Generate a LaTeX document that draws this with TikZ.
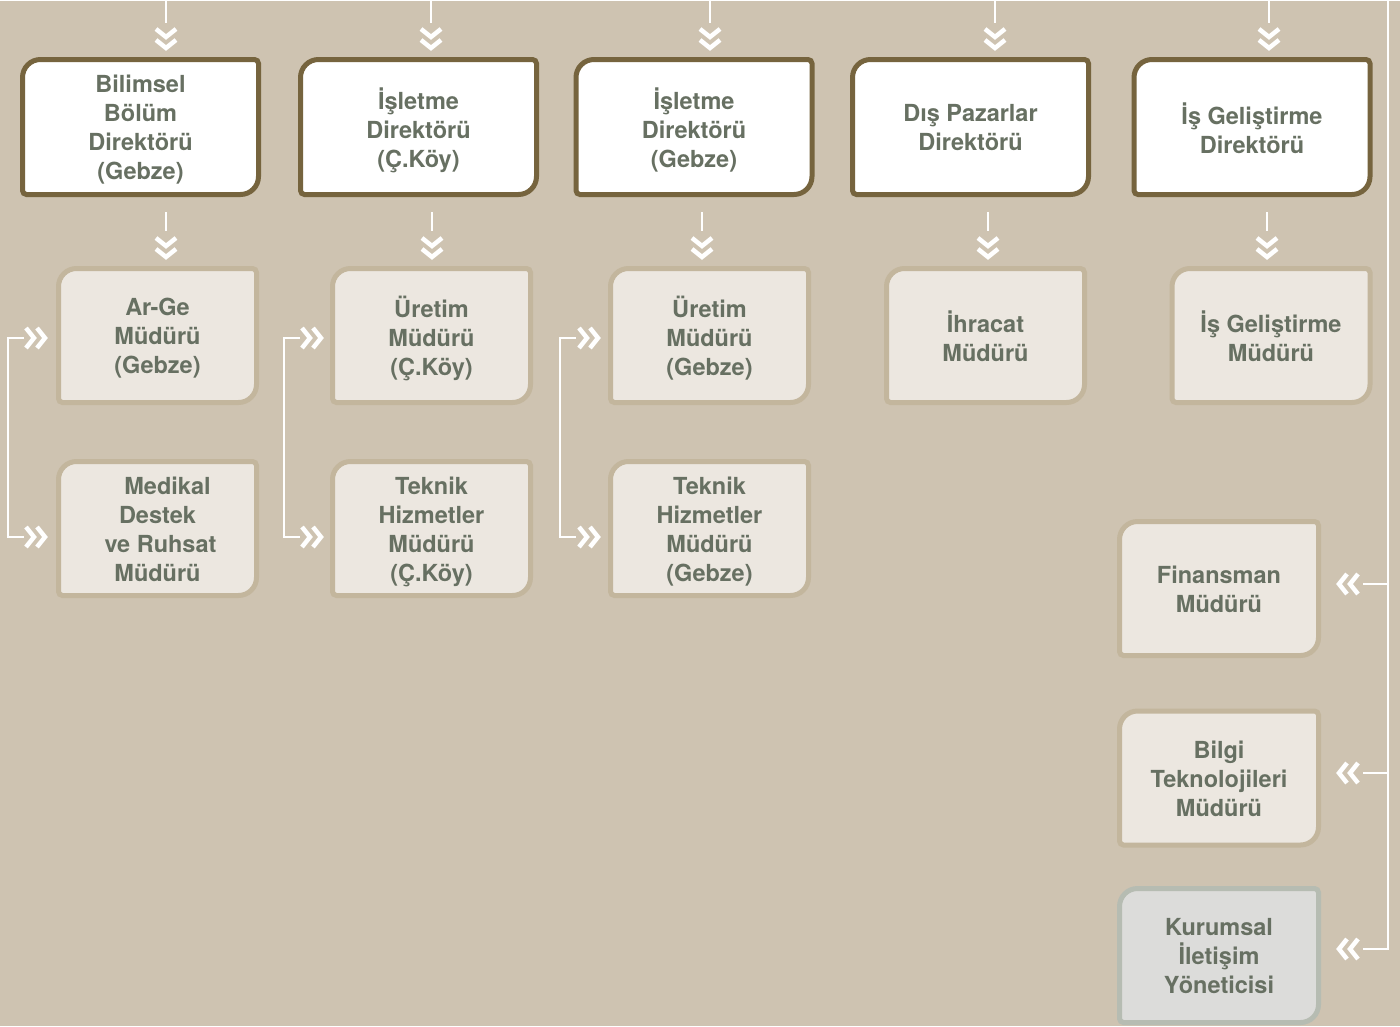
\documentclass[tikz,border=0pt]{standalone}
\usepackage{fontspec}
\setmainfont{TeX Gyre Heros}
\usetikzlibrary{backgrounds}
\definecolor{bgc}{HTML}{CEC3B1}
\definecolor{topedge}{HTML}{76643E}
\definecolor{subfill}{HTML}{ECE7E0}
\definecolor{subedge}{HTML}{C3B69D}
\definecolor{kurfill}{HTML}{DCDCDA}
\definecolor{kuredge}{HTML}{B6BCB2}
\definecolor{txt}{HTML}{677062}
% card outline, raised 5pt over the text node
\newcommand{\cardpath}[1]{([xshift=18,yshift=5]#1.north west) -- ([xshift=-4,yshift=5]#1.north east) arc[start angle=90,end angle=0,radius=4] -- ([yshift=23]#1.south east) arc[start angle=0,end angle=-90,radius=18] -- ([xshift=4,yshift=5]#1.south west) arc[start angle=270,end angle=180,radius=4] -- ([yshift=-13]#1.north west) arc[start angle=180,end angle=90,radius=18] -- cycle}
\tikzset{
  lbl/.style={align=center,text=txt,font=\fontsize{23.5}{29}\selectfont\bfseries,inner sep=0pt,outer sep=0pt,
    execute at begin node=\strut,execute at end node=\strut},
  topbox/.style={lbl,minimum width=236,minimum height=135},
  subbox/.style={lbl,minimum width=198,minimum height=134},
  sidebox/.style={lbl,minimum width=199,minimum height=134},
  link/.style={white,line width=2.2pt},
  chev/.style={white,line width=4.5pt,miter limit=4},
  dchev/.pic={\draw[chev] (-10,19)--(0,11)--(10,19) (-10,8)--(0,0)--(10,8);}
}
\begin{document}
\begin{tikzpicture}[x=1pt,y=1pt]
                \useasboundingbox (0,0) rectangle (1400,-1026);
                % directors
                \node[topbox] (bil) at (140.5,-132) {Bilimsel\\Bölüm\\Direktörü\\(Gebze)};
                \node[topbox] (isc) at (418.5,-132) {İşletme\\Direktörü\\(Ç.Köy)};
                \node[topbox] (isg) at (694,-132) {İşletme\\Direktörü\\(Gebze)};
                \node[topbox] (dis) at (970.5,-132) {Dış Pazarlar\\Direktörü};
                \node[topbox] (isd) at (1252,-132) {İş Geliştirme\\Direktörü};
                % managers
                \node[subbox] (arg) at (157.5,-340.5) {Ar-Ge\\Müdürü\\(Gebze)};
                \node[subbox] (urc) at (431.5,-340.5) {Üretim\\Müdürü\\(Ç.Köy)};
                \node[subbox] (urg) at (709.5,-340.5) {Üretim\\Müdürü\\(Gebze)};
                \node[subbox] (ihr) at (985.5,-340.5) {İhracat\\Müdürü};
                \node[subbox] (igm) at (1271,-340.5) {İş Geliştirme\\Müdürü};
                \node[subbox] (med) at (157.5,-533.5) {\hspace*{20pt}Medikal\\Destek\\\hspace*{6pt}ve Ruhsat\\Müdürü};
                \node[subbox] (tkc) at (431.5,-533.5) {Teknik\\Hizmetler\\Müdürü\\(Ç.Köy)};
                \node[subbox] (tkg) at (709.5,-533.5) {Teknik\\Hizmetler\\Müdürü\\(Gebze)};
                \node[sidebox] (fin) at (1219,-593.5) {Finansman\\Müdürü};
                \node[sidebox] (btm) at (1219,-783) {Bilgi\\Teknolojileri\\Müdürü};
                \node[sidebox] (kur) at (1219,-960.5) {Kurumsal\\İletişim\\Yöneticisi};
                \begin{scope}[on background layer]
                \fill[bgc] (0,0) rectangle (1400,-1026);
                \foreach \n in {bil,isc,isg,dis,isd}
                    \filldraw[fill=white,draw=topedge,line width=5pt] \cardpath{\n};
                \foreach \n in {arg,urc,urg,ihr,igm,med,tkc,tkg,fin,btm}
                    \filldraw[fill=subfill,draw=subedge,line width=5pt] \cardpath{\n};
                \filldraw[fill=kurfill,draw=kuredge,line width=5pt] \cardpath{kur};
                \end{scope}
                % trunk lines
                \draw[link] (0,0) -- (1400,0);
                \coordinate (rt) at (1388,0);
                \draw[link] (rt) -- (1388,-949) -- (1363,-949);
                \foreach \y in {584,773}
                    \draw[link] (1388,-\y) -- (1363,-\y);
                \foreach \y in {584,773,949}
                    \pic[rotate=-90] at (1339,-\y) {dchev};
                \foreach \x in {166,431,710,995,1269}
                {
                \coordinate (t\x) at (\x,0);
                \draw[link] (t\x) -- ++(0,-23);
                \pic at (\x,-48) {dchev};
                }
                \foreach \x in {166,432,702,988,1267}
                {
                \draw[link] (\x,-212) -- (\x,-231);
                \pic at (\x,-257) {dchev};
                }
                \foreach \x/\t in {8/45,284/321,560/598}
                {
                \draw[link] (\x+16,-338) -- (\x,-338) -- (\x,-537) -- (\x+16,-537);
                \pic[rotate=90] at (\t,-338) {dchev};
                \pic[rotate=90] at (\t,-537) {dchev};
                }
            \end{tikzpicture}
\end{document}
